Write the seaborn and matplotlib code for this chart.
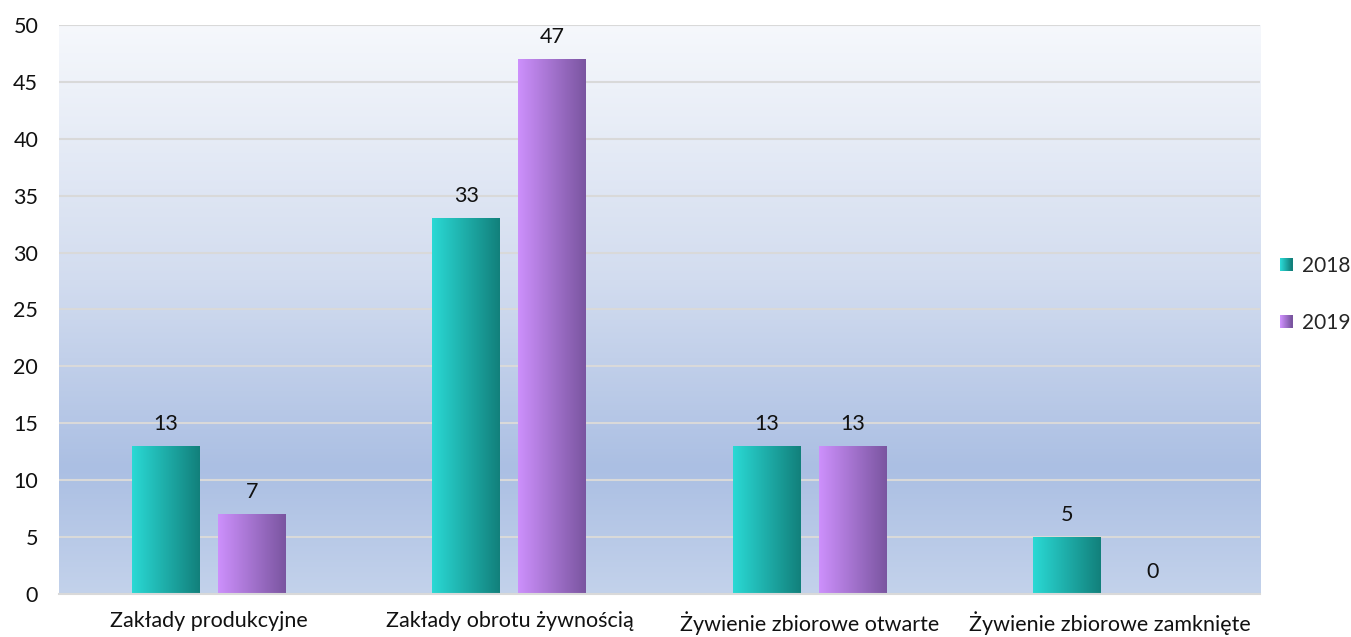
import numpy as np
import pandas as pd
import matplotlib
matplotlib.use("Agg")
import matplotlib.pyplot as plt
import seaborn as sns
from matplotlib.colors import LinearSegmentedColormap
from matplotlib.patches import Patch, Rectangle
from matplotlib.legend_handler import HandlerBase

# Data
categories = ["Zakłady produkcyjne", "Zakłady obrotu żywnością",
              "Żywienie zbiorowe otwarte", "Żywienie zbiorowe zamknięte"]
years = ["2018", "2019"]
values_2018 = [13, 33, 13, 5]
values_2019 = [7, 47, 13, 0]

df = pd.DataFrame({
    "kategoria": categories * 2,
    "rok": [years[0]] * 4 + [years[1]] * 4,
    "liczba": values_2018 + values_2019,
})

sns.set_style("white")
plt.rcParams["font.family"] = ["Lato", "DejaVu Sans"]
FS = 15.5
plt.rcParams["font.size"] = FS

# gradient colours for each series (left -> right)
grad = {
    "2018": ("#2ad9d5", "#12807b"),
    "2019": ("#cd90fc", "#7a55a0"),
}
mid = {"2018": "#1fada8", "2019": "#a473cf"}
cmaps = {y: LinearSegmentedColormap.from_list("b" + y, list(grad[y])) for y in years}


class GradientHandler(HandlerBase):
    # legend square with the same left-right gradient as the bars
    def create_artists(self, legend, orig_handle, xdescent, ydescent,
                       width, height, fontsize, trans):
        cmap = cmaps[orig_handle.get_label()]
        n = 12
        arts = []
        for i in range(n):
            r = Rectangle((-xdescent + width * i / n, -ydescent), width / n + 0.3,
                          height, facecolor=cmap(i / (n - 1)), edgecolor="none",
                          transform=trans)
            arts.append(r)
        return arts


fig = plt.figure(figsize=(13.51, 6.37), dpi=100)
ax = fig.add_axes([0.0437, 0.0675, 0.889, 0.8933])

sns.barplot(data=df, x="kategoria", y="liczba", hue="rok", order=categories,
            hue_order=years, palette=mid, width=0.573, gap=0.21,
            legend=False, ax=ax)

# background gradient of the plot area
bg = LinearSegmentedColormap.from_list(
    "bg", [(0, "#c3d2eb"), (0.22, "#abbfe3"), (0.55, "#d2dcef"), (1, "#f6f8fc")])
ax.imshow(np.linspace(0, 1, 256).reshape(-1, 1), cmap=bg, origin="lower",
          extent=[0, 1, 0, 1], transform=ax.transAxes, aspect="auto", zorder=-10)

# horizontal gradient on each bar
xs = np.linspace(0, 1, 256).reshape(1, -1)
for container, yr in zip(ax.containers, years):
    for bar in container:
        x0, w, h = bar.get_x(), bar.get_width(), bar.get_height()
        if h > 0:
            ax.imshow(xs, cmap=cmaps[yr], extent=[x0, x0 + w, 0, h],
                      aspect="auto", zorder=2, interpolation="bilinear")
        bar.set_alpha(0)
    ax.bar_label(container, labels=[str(int(v)) for v in container.datavalues],
                 padding=9, fontsize=FS, color="#111111")
ax.set_xlim(-0.5, 3.5)
ax.set_ylim(0, 50)
ax.set_yticks(range(0, 51, 5))

ax.yaxis.grid(True, color="#d9d9d9", linewidth=1.5)
ax.set_axisbelow(True)
for s in ["top", "right", "left"]:
    ax.spines[s].set_visible(False)
ax.spines["bottom"].set_color("#d9d9d9")
ax.spines["bottom"].set_linewidth(1.5)
ax.tick_params(axis="both", length=0, labelsize=FS, colors="#111111")
ax.tick_params(axis="x", pad=12)
ax.tick_params(axis="y", pad=15)
ax.set_xlabel("")
ax.set_ylabel("")

handles = [Patch(facecolor=mid[y], label=y) for y in years]
fig.legend(handles=handles, loc="center left", bbox_to_anchor=(0.9365, 0.538),
           frameon=False, fontsize=15, handlelength=0.6, handleheight=0.6,
           handletextpad=0.45, labelspacing=1.8, borderpad=0.2,
           handler_map={Patch: GradientHandler()})

fig.savefig("out.png", dpi=100)
